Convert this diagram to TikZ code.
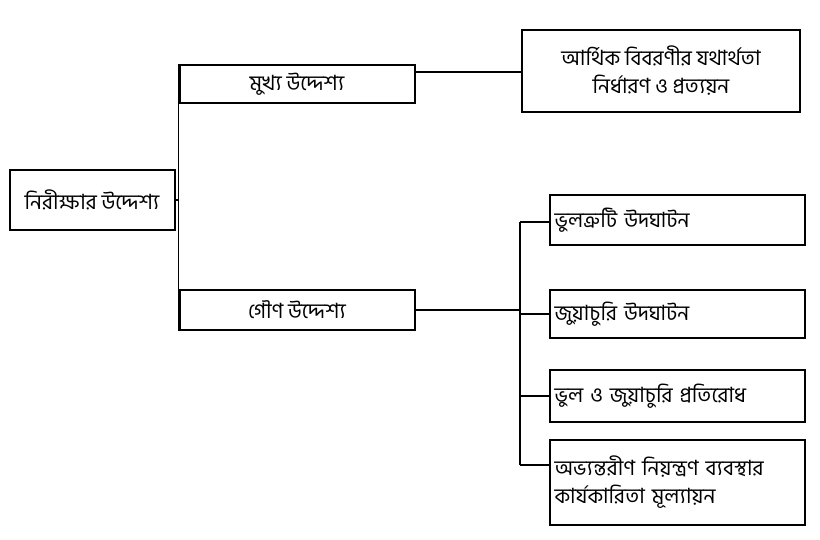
\documentclass[tikz,border=0pt]{standalone}
\usepackage{fontspec}
\newfontfamily\bn[Script=Bengali]{Hind Siliguri}
\begin{document}
\begin{tikzpicture}[x=1pt,y=-1pt,
  bx/.style={draw,line width=2pt,inner sep=0pt,font=\bn\fontsize{21}{28}\selectfont,align=center},
  ln/.style={line width=1.8pt}]
\useasboundingbox[fill=white] (0,0) rectangle (820,540);
\node[bx,minimum width=165,minimum height=60] (root) at (92,200) {নিরীক্ষার উদ্দেশ্য};
\node[bx,minimum width=235,minimum height=38] (main) at (297,84) {মুখ্য উদ্দেশ্য};
\node[bx,minimum width=235,minimum height=40] (sec) at (297,310) {গৌণ উদ্দেশ্য};
\node[bx,minimum width=278,minimum height=82] (r1) at (661,71) {আর্থিক বিবরণীর যথার্থতা\\নির্ধারণ ও প্রত্যয়ন};
\node[bx,minimum width=255,minimum height=50,align=left,text width=245] (c1) at (677,220) {ভুলত্রুটি উদঘাটন};
\node[bx,minimum width=255,minimum height=48,align=left,text width=245] (c2) at (677,314) {জুয়াচুরি উদঘাটন};
\node[bx,minimum width=255,minimum height=52,align=left,text width=245] (c3) at (677,396) {ভুল ও জুয়াচুরি প্রতিরোধ};
\node[bx,minimum width=255,minimum height=85,align=left,text width=245] (c4) at (677,482) {অভ্যন্তরীণ নিয়ন্ত্রণ ব্যবস্থার\\কার্যকারিতা মূল্যায়ন};
\draw[ln] (main.north west) -- (sec.south west);
\draw[ln] (root.east) -- (root.east -| main.west);
\coordinate (mj) at (415,72);
\draw[ln] (mj) -- (mj -| r1.west);
\coordinate (bt) at (520,222);
\coordinate (bb) at (520,465);
\draw[ln] (sec.east) -- (sec.east -| bt);
\draw[ln] (bt) -- (bb);
\draw[ln] (bt) -- (bt -| c1.west);
\draw[ln] (c2.west -| bt) -- (c2.west);
\draw[ln] (c3.west -| bt) -- (c3.west);
\draw[ln] (bb) -- (bb -| c4.west);
\end{tikzpicture}
\end{document}
